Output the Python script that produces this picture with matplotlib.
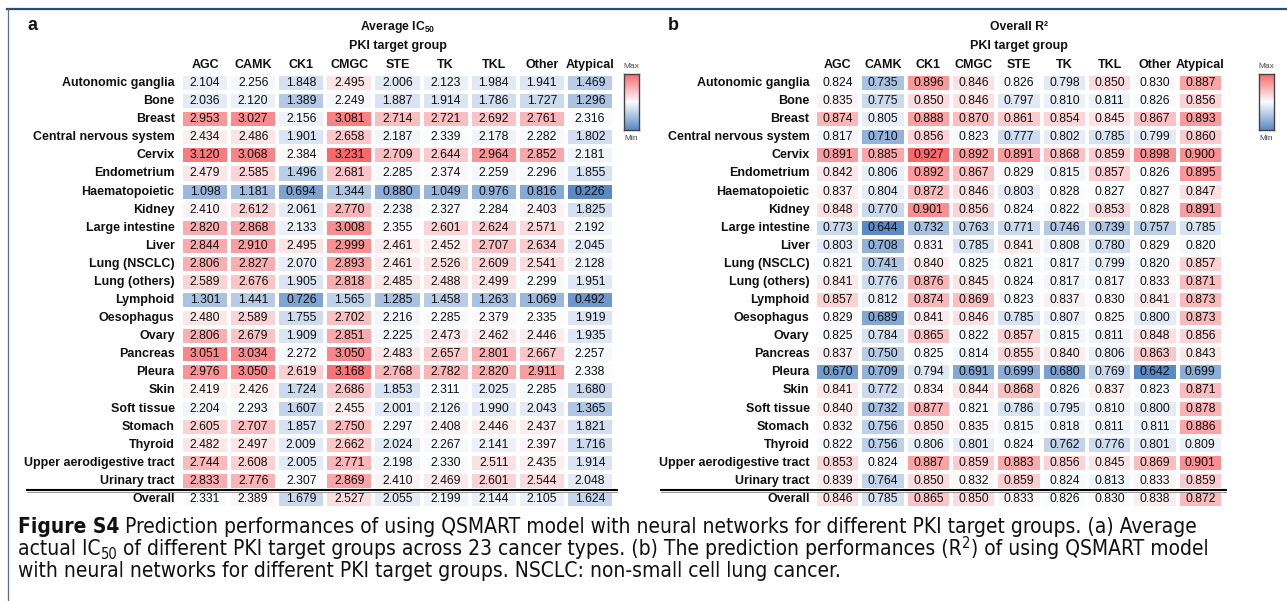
import os
import numpy as np
import matplotlib
matplotlib.use("Agg")
import matplotlib.pyplot as plt
from matplotlib.colors import LinearSegmentedColormap, TwoSlopeNorm
from matplotlib.lines import Line2D
from matplotlib import font_manager
from matplotlib.font_manager import FontProperties

# ---------------- data ----------------
cancer_types = ["Autonomic ganglia", "Bone", "Breast", "Central nervous system", "Cervix",
                "Endometrium", "Haematopoietic", "Kidney", "Large intestine", "Liver",
                "Lung (NSCLC)", "Lung (others)", "Lymphoid", "Oesophagus", "Ovary",
                "Pancreas", "Pleura", "Skin", "Soft tissue", "Stomach", "Thyroid",
                "Upper aerodigestive tract", "Urinary tract", "Overall"]
pki_groups = ["AGC", "CAMK", "CK1", "CMGC", "STE", "TK", "TKL", "Other", "Atypical"]

ic50_values = [
    [2.104, 2.256, 1.848, 2.495, 2.006, 2.123, 1.984, 1.941, 1.469],
    [2.036, 2.120, 1.389, 2.249, 1.887, 1.914, 1.786, 1.727, 1.296],
    [2.953, 3.027, 2.156, 3.081, 2.714, 2.721, 2.692, 2.761, 2.316],
    [2.434, 2.486, 1.901, 2.658, 2.187, 2.339, 2.178, 2.282, 1.802],
    [3.120, 3.068, 2.384, 3.231, 2.709, 2.644, 2.964, 2.852, 2.181],
    [2.479, 2.585, 1.496, 2.681, 2.285, 2.374, 2.259, 2.296, 1.855],
    [1.098, 1.181, 0.694, 1.344, 0.880, 1.049, 0.976, 0.816, 0.226],
    [2.410, 2.612, 2.061, 2.770, 2.238, 2.327, 2.284, 2.403, 1.825],
    [2.820, 2.868, 2.133, 3.008, 2.355, 2.601, 2.624, 2.571, 2.192],
    [2.844, 2.910, 2.495, 2.999, 2.461, 2.452, 2.707, 2.634, 2.045],
    [2.806, 2.827, 2.070, 2.893, 2.461, 2.526, 2.609, 2.541, 2.128],
    [2.589, 2.676, 1.905, 2.818, 2.485, 2.488, 2.499, 2.299, 1.951],
    [1.301, 1.441, 0.726, 1.565, 1.285, 1.458, 1.263, 1.069, 0.492],
    [2.480, 2.589, 1.755, 2.702, 2.216, 2.285, 2.379, 2.335, 1.919],
    [2.806, 2.679, 1.909, 2.851, 2.225, 2.473, 2.462, 2.446, 1.935],
    [3.051, 3.034, 2.272, 3.050, 2.483, 2.657, 2.801, 2.667, 2.257],
    [2.976, 3.050, 2.619, 3.168, 2.768, 2.782, 2.820, 2.911, 2.338],
    [2.419, 2.426, 1.724, 2.686, 1.853, 2.311, 2.025, 2.285, 1.680],
    [2.204, 2.293, 1.607, 2.455, 2.001, 2.126, 1.990, 2.043, 1.365],
    [2.605, 2.707, 1.857, 2.750, 2.297, 2.408, 2.446, 2.437, 1.821],
    [2.482, 2.497, 2.009, 2.662, 2.024, 2.267, 2.141, 2.397, 1.716],
    [2.744, 2.608, 2.005, 2.771, 2.198, 2.330, 2.511, 2.435, 1.914],
    [2.833, 2.776, 2.307, 2.869, 2.410, 2.469, 2.601, 2.544, 2.048],
    [2.331, 2.389, 1.679, 2.527, 2.055, 2.199, 2.144, 2.105, 1.624],
]

r2_values = [
    [0.824, 0.735, 0.896, 0.846, 0.826, 0.798, 0.850, 0.830, 0.887],
    [0.835, 0.775, 0.850, 0.846, 0.797, 0.810, 0.811, 0.826, 0.856],
    [0.874, 0.805, 0.888, 0.870, 0.861, 0.854, 0.845, 0.867, 0.893],
    [0.817, 0.710, 0.856, 0.823, 0.777, 0.802, 0.785, 0.799, 0.860],
    [0.891, 0.885, 0.927, 0.892, 0.891, 0.868, 0.859, 0.898, 0.900],
    [0.842, 0.806, 0.892, 0.867, 0.829, 0.815, 0.857, 0.826, 0.895],
    [0.837, 0.804, 0.872, 0.846, 0.803, 0.828, 0.827, 0.827, 0.847],
    [0.848, 0.770, 0.901, 0.856, 0.824, 0.822, 0.853, 0.828, 0.891],
    [0.773, 0.644, 0.732, 0.763, 0.771, 0.746, 0.739, 0.757, 0.785],
    [0.803, 0.708, 0.831, 0.785, 0.841, 0.808, 0.780, 0.829, 0.820],
    [0.821, 0.741, 0.840, 0.825, 0.821, 0.817, 0.799, 0.820, 0.857],
    [0.841, 0.776, 0.876, 0.845, 0.824, 0.817, 0.817, 0.833, 0.871],
    [0.857, 0.812, 0.874, 0.869, 0.823, 0.837, 0.830, 0.841, 0.873],
    [0.829, 0.689, 0.841, 0.846, 0.785, 0.807, 0.825, 0.800, 0.873],
    [0.825, 0.784, 0.865, 0.822, 0.857, 0.815, 0.811, 0.848, 0.856],
    [0.837, 0.750, 0.825, 0.814, 0.855, 0.840, 0.806, 0.863, 0.843],
    [0.670, 0.709, 0.794, 0.691, 0.699, 0.680, 0.769, 0.642, 0.699],
    [0.841, 0.772, 0.834, 0.844, 0.868, 0.826, 0.837, 0.823, 0.871],
    [0.840, 0.732, 0.877, 0.821, 0.786, 0.795, 0.810, 0.800, 0.878],
    [0.832, 0.756, 0.850, 0.835, 0.815, 0.818, 0.811, 0.811, 0.886],
    [0.822, 0.756, 0.806, 0.801, 0.824, 0.762, 0.776, 0.801, 0.809],
    [0.853, 0.824, 0.887, 0.859, 0.883, 0.856, 0.845, 0.869, 0.901],
    [0.839, 0.764, 0.850, 0.832, 0.859, 0.824, 0.813, 0.833, 0.859],
    [0.846, 0.785, 0.865, 0.850, 0.833, 0.826, 0.830, 0.838, 0.872],
]

caption_segments = [
    [("Figure S4", "b"), (" Prediction performances of using QSMART model with neural networks for different PKI target groups. (a) Average", "n")],
    [("actual IC", "n"), ("50", "sub"), (" of different PKI target groups across 23 cancer types. (b) The prediction performances (R", "n"),
     ("2", "sup"), (") of using QSMART model", "n")],
    [("with neural networks for different PKI target groups. NSCLC: non-small cell lung cancer.", "n")],
]

# ---------------- style ----------------
W, H = 1287, 601
FONT = "Liberation Sans"
plt.rcParams["font.family"] = [FONT, "DejaVu Sans"]
plt.rcParams["mathtext.fontset"] = "custom"
plt.rcParams["mathtext.rm"] = FONT
plt.rcParams["mathtext.it"] = FONT + ":italic"
plt.rcParams["mathtext.bf"] = FONT + ":bold"


def find_font_pair():
    files = {}
    try:
        for f in font_manager.findSystemFonts():
            files[os.path.basename(f)] = f
    except Exception:
        pass
    for e in font_manager.fontManager.ttflist:
        files.setdefault(os.path.basename(e.fname), e.fname)
    for reg, bold in [("LiberationSansNarrow-Regular.ttf", "LiberationSansNarrow-Bold.ttf"),
                      ("DejaVuSansCondensed.ttf", "DejaVuSansCondensed-Bold.ttf")]:
        if reg in files and bold in files:
            return FontProperties(fname=files[reg]), FontProperties(fname=files[bold])
    return FontProperties(family="Roboto"), FontProperties(family="Roboto", weight="bold")


CAP_REG, CAP_BOLD = find_font_pair()

cmap = LinearSegmentedColormap.from_list("xl", ["#5A8AC6", "#FCFCFF", "#F8696B"])

fig = plt.figure(figsize=(W / 100, H / 100), dpi=100)


def px_axes(l, t, r, b):
    return fig.add_axes([l / W, 1 - b / H, (r - l) / W, (b - t) / H])


def fx(x):
    return x / W


def fy(y):
    return 1 - y / H


# frame
fig.add_artist(Line2D([fx(7), fx(1290)], [fy(9), fy(9)], color="#2f4a70", lw=1.6))
fig.add_artist(Line2D([fx(7.5), fx(7.5)], [fy(9), fy(605)], color="#5a6f8c", lw=0.9))


def draw_panel(values, l, r, letter, letter_x, title, cb_x, label_pad):
    data = np.array(values)
    nrow, ncol = data.shape
    t, b = 74, 508
    ax = px_axes(l, t, r, b)
    vmin, vmax = data.min(), data.max()
    vmid = np.percentile(data, 50)
    norm = TwoSlopeNorm(vcenter=vmid, vmin=vmin, vmax=vmax)
    ax.pcolormesh(np.arange(ncol + 1), np.arange(nrow + 1), data, cmap=cmap, norm=norm,
                  edgecolors="white", linewidth=1.6)
    ax.set_xlim(0, ncol)
    ax.set_ylim(nrow, 0)
    ax.axis("off")
    for i in range(nrow):
        for j in range(ncol):
            ax.text(j + 0.5, i + 0.5, f"{data[i, j]:.3f}", ha="center", va="center",
                    fontsize=8.7, color="#111111")
        ax.text(-label_pad, i + 0.5, cancer_types[i], ha="right", va="center",
                fontsize=9.0, fontweight="bold", color="#111111")
    for j, g in enumerate(pki_groups):
        ax.text(j + 0.5, -0.5, g, ha="center", va="center", fontsize=9.0,
                fontweight="bold", color="#111111")
    ax.text(ncol / 2, -1.55, "PKI target group", ha="center", va="center",
            fontsize=9.0, fontweight="bold", color="#111111")
    ax.text(ncol / 2, -2.6, title, ha="center", va="center",
            fontsize=8.8, fontweight="bold", color="#111111")
    fig.text(fx(letter_x), fy(26), letter, ha="center", va="center",
             fontsize=13, fontweight="bold", color="#111111")
    # separator line above Overall
    sep_y = t + (b - t) * (nrow - 1) / nrow
    fig.add_artist(Line2D([fx(l - 154), fx(r + 3)], [fy(sep_y), fy(sep_y)],
                          color="black", lw=1.5))
    fig.add_artist(Line2D([fx(l - 154), fx(r + 3)], [fy(sep_y + 1.6), fy(sep_y + 1.6)],
                          color="#888888", lw=0.6))
    # colour key
    cax = px_axes(cb_x, 74, cb_x + 15, 130)
    grad = np.linspace(1, 0, 200).reshape(-1, 1)
    cax.imshow(grad, aspect="auto", cmap=cmap, extent=(0, 1, 0, 1))
    cax.set_xticks([])
    cax.set_yticks([])
    for s in cax.spines.values():
        s.set_color("#444444")
        s.set_linewidth(1.0)
    fig.text(fx(cb_x + 7.5), fy(66), "Max", ha="center", va="center", fontsize=6,
             color="#444444")
    fig.text(fx(cb_x + 7.5), fy(139), "Min", ha="center", va="center", fontsize=6,
             color="#444444")
    return ax


ax1 = draw_panel(ic50_values, 181, 614, "a", 33, r"Average IC$_{\mathbf{50}}$", 624, 0.13)
ax2 = draw_panel(r2_values, 815, 1223, "b", 673, "Overall R\u00b2", 1259, 0.12)

# ---------------- caption (segment layout) ----------------
renderer = fig.canvas.get_renderer()


def seg_width(text, style, size):
    fp = (CAP_BOLD if style == "b" else CAP_REG).copy()
    fp.set_size(size * (0.7 if style in ("sub", "sup") else 1.0))
    w, h, d = renderer.get_text_width_height_descent(text, fp, ismath=False)
    return w, fp


base_size = 12.0
w_line1 = sum(seg_width(t, s, base_size)[0] for t, s in caption_segments[0])
cap_size = base_size * 1215.0 / w_line1
cap_size = min(cap_size, 15.0)

for k, segs in enumerate(caption_segments):
    x = 18.0
    ybase = 533 + 22 * k
    for text, style in segs:
        w, fp = seg_width(text, style, cap_size)
        dy = 0
        if style == "sub":
            dy = 4
        elif style == "sup":
            dy = -7
        fig.text(fx(x), fy(ybase + dy), text, ha="left", va="baseline",
                 fontproperties=fp, color="#111111")
        x += w

fig.savefig("out.png", dpi=100)
